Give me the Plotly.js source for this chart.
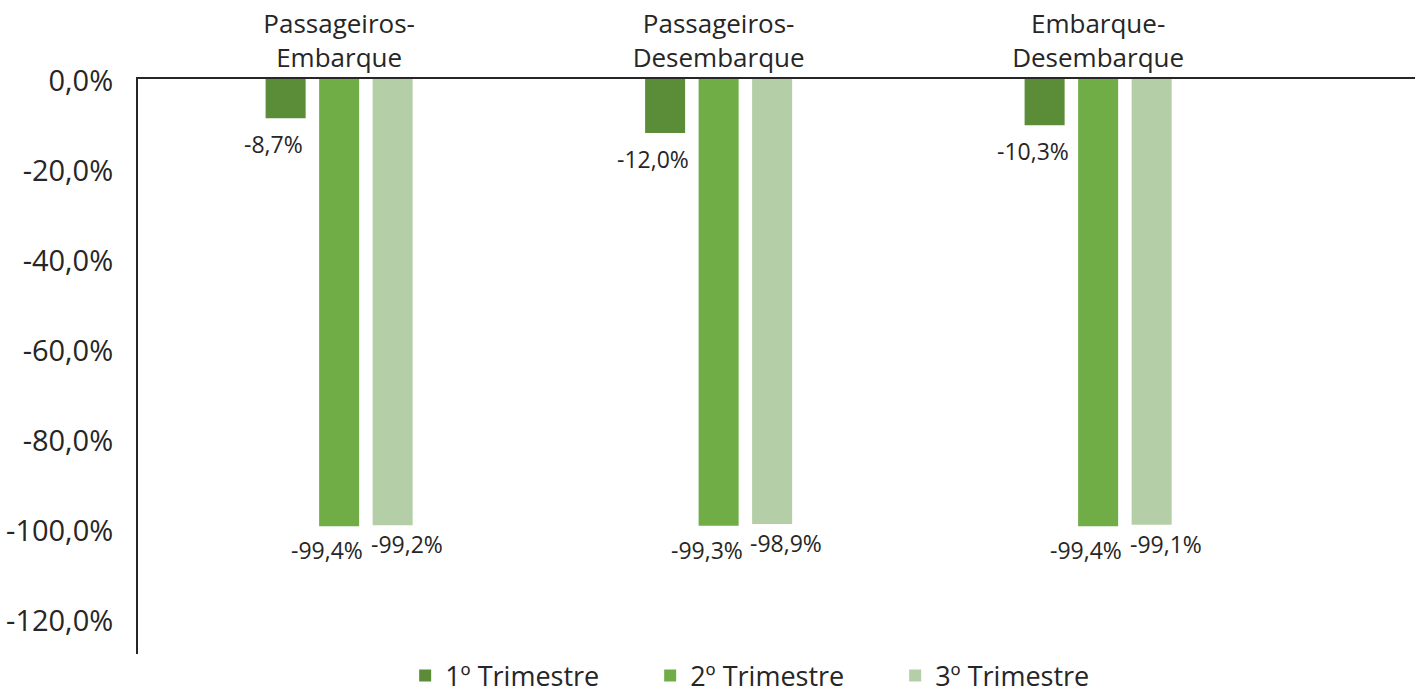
<!DOCTYPE html>
<html>
<head>
<meta charset="utf-8">
<script src="https://cdn.plot.ly/plotly-3.0.1.min.js"></script>
<style>
  html, body { margin: 0; padding: 0; background: #ffffff; }
  #chart { width: 1422px; height: 693px; }
</style>
</head>
<body>
<div id="chart"></div>
<script>
// ---- data ----
const categories = ["Passageiros-<br>Embarque", "Passageiros-<br>Desembarque", "Embarque-<br>Desembarque"];
const seriesNames = ["1º Trimestre", "2º Trimestre", "3º Trimestre"];
const trimestre1 = [-8.7, -12.0, -10.3];
const trimestre2 = [-99.4, -99.3, -99.4];
const trimestre3 = [-99.2, -98.9, -99.1];
const yTickValues = [0, -20, -40, -60, -80, -100, -120];

// ---- helpers / styling ----
const fmt = v => v.toFixed(1).replace('.', ',') + '%';
const colors = ['#5b8d39', '#70ad47', '#b4cfa7'];
const textColor = '#262626';
const fontFamily = '"Open Sans", "Noto Sans", sans-serif';

// plot geometry (styling constants)
const plotLeft = 138, plotRight = 1415, plotTop = 79, plotBottom = 654;
const xRange = [-0.53, 2.835];
const yRange = [-127.8, 0];
const pxPerCat = (plotRight - plotLeft) / (xRange[1] - xRange[0]);
const bargap = 0.577, bargroupgap = 0.252;
const slotPx = (1 - bargap) * pxPerCat / 3;
// per-series label nudges (px) mimicking the reference placement
const labelDx = [-12, -12, 14];
const labelDy = [-8, -6, -1];

const series = [trimestre1, trimestre2, trimestre3];
const traces = series.map((vals, i) => ({
  type: 'bar',
  name: seriesNames[i],
  x: categories,
  y: vals,
  marker: { color: colors[i] },
  hoverinfo: 'skip'
}));

const annotations = [];
series.forEach((vals, i) => {
  vals.forEach((v, j) => {
    annotations.push({
      x: categories[j],
      y: v,
      xref: 'x',
      yref: 'y',
      text: fmt(v),
      showarrow: false,
      xanchor: 'center',
      yanchor: 'top',
      xshift: (i - 1) * slotPx + labelDx[i],
      yshift: labelDy[i],
      font: { family: fontFamily, size: 23, color: textColor }
    });
  });
});

const layout = {
  width: 1422,
  height: 693,
  margin: { l: plotLeft, r: 1422 - plotRight, t: plotTop, b: 693 - plotBottom, autoexpand: false },
  paper_bgcolor: '#ffffff',
  plot_bgcolor: '#ffffff',
  font: { family: fontFamily, color: textColor },
  barmode: 'group',
  bargap: bargap,
  bargroupgap: bargroupgap,
  showlegend: true,
  legend: {
    orientation: 'h',
    x: 0.497,
    xanchor: 'center',
    y: -0.038,
    yanchor: 'middle',
    entrywidth: 200,
    font: { family: fontFamily, size: 27, color: textColor },
    traceorder: 'normal'
  },
  annotations: annotations,
  xaxis: {
    type: 'category',
    side: 'top',
    range: xRange,
    showline: true,
    linecolor: textColor,
    linewidth: 2,
    ticks: '',
    ticklabelstandoff: 0,
    showgrid: false,
    zeroline: false,
    tickfont: { family: fontFamily, size: 26, color: textColor },
    fixedrange: true
  },
  yaxis: {
    range: yRange,
    tickvals: yTickValues,
    ticktext: yTickValues.map(fmt),
    showline: true,
    linecolor: textColor,
    linewidth: 2,
    ticks: '',
    ticklabelstandoff: 17,
    ticklabelshift: 2,
    showgrid: false,
    zeroline: false,
    tickfont: { family: fontFamily, size: 29, color: textColor },
    fixedrange: true
  }
};

Plotly.newPlot('chart', traces, layout, { displayModeBar: false, staticPlot: true });
</script>
</body>
</html>
